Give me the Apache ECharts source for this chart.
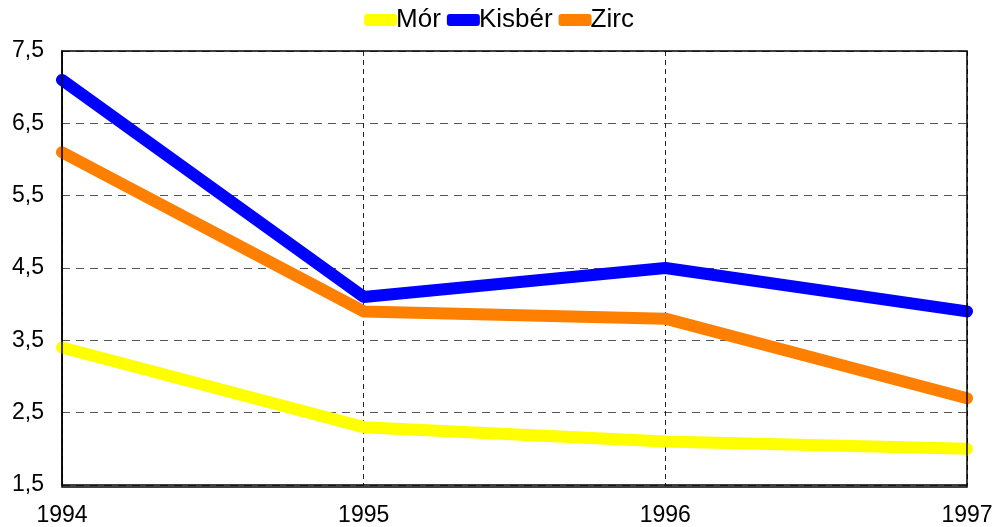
<!DOCTYPE html>
<html>
<head>
<meta charset="utf-8">
<script src="https://cdn.jsdelivr.net/npm/echarts@6/dist/echarts.min.js"></script>
<style>
  html, body { margin: 0; padding: 0; background: #fff; }
  #chart { width: 998px; height: 527px; }
</style>
</head>
<body>
<div id="chart"></div>
<script>
const years = ["1994", "1995", "1996", "1997"];
const morValues = [3.4, 2.3, 2.1, 2.0];
const kisberValues = [7.1, 4.1, 4.5, 3.9];
const zircValues = [6.1, 3.9, 3.8, 2.7];

const font = "'Liberation Sans', Arial, sans-serif";

function makeSeries(name, data, color) {
  return {
    name,
    type: "line",
    data,
    showSymbol: false,
    symbol: "circle",
    lineStyle: { color, width: 12, cap: "round", join: "round" },
    itemStyle: { color },
    z: 3,
  };
}

const chart = echarts.init(document.getElementById("chart"));
chart.setOption({
  animation: false,
  textStyle: { fontFamily: font },
  legend: {
    top: 2,
    left: "center",
    itemGap: 6,
    itemWidth: 33,
    itemHeight: 12,
    icon: "roundRect",
    textStyle: { fontSize: 26, color: "#000", fontFamily: font, padding: [0, 0, 0, -6] },
    data: ["Mór", "Kisbér", "Zirc"],
  },
  grid: { left: 62, right: 31, top: 51, bottom: 40 },
  xAxis: {
    type: "category",
    data: years,
    boundaryGap: false,
    axisLine: { lineStyle: { color: "#000", width: 1.5 } },
    axisTick: { show: false },
    axisLabel: { color: "#000", fontSize: 23, margin: 19, fontFamily: font },
    splitLine: { show: true, lineStyle: { color: "#222", type: [5, 4], width: 1 } },
  },
  yAxis: {
    type: "value",
    min: 1.5,
    max: 7.5,
    interval: 1,
    axisLine: { show: true, lineStyle: { color: "#000", width: 1.5 } },
    axisTick: { show: false },
    axisLabel: {
      color: "#000",
      fontSize: 23,
      margin: 18,
      fontFamily: font,
      formatter: (v) => v.toFixed(1).replace(".", ","),
    },
    splitLine: { show: true, lineStyle: { color: "#555", type: [8, 6], width: 1 } },
  },
  series: [
    makeSeries("Mór", morValues, "#ffff00"),
    makeSeries("Kisbér", kisberValues, "#0000ff"),
    makeSeries("Zirc", zircValues, "#ff8000"),
  ],
  graphic: [
    {
      type: "rect",
      shape: { x: 62, y: 51, width: 905, height: 436 },
      style: { fill: "none", stroke: "#000", lineWidth: 1.5 },
      silent: true,
      z: 10,
    },
  ],
});
</script>
</body>
</html>
